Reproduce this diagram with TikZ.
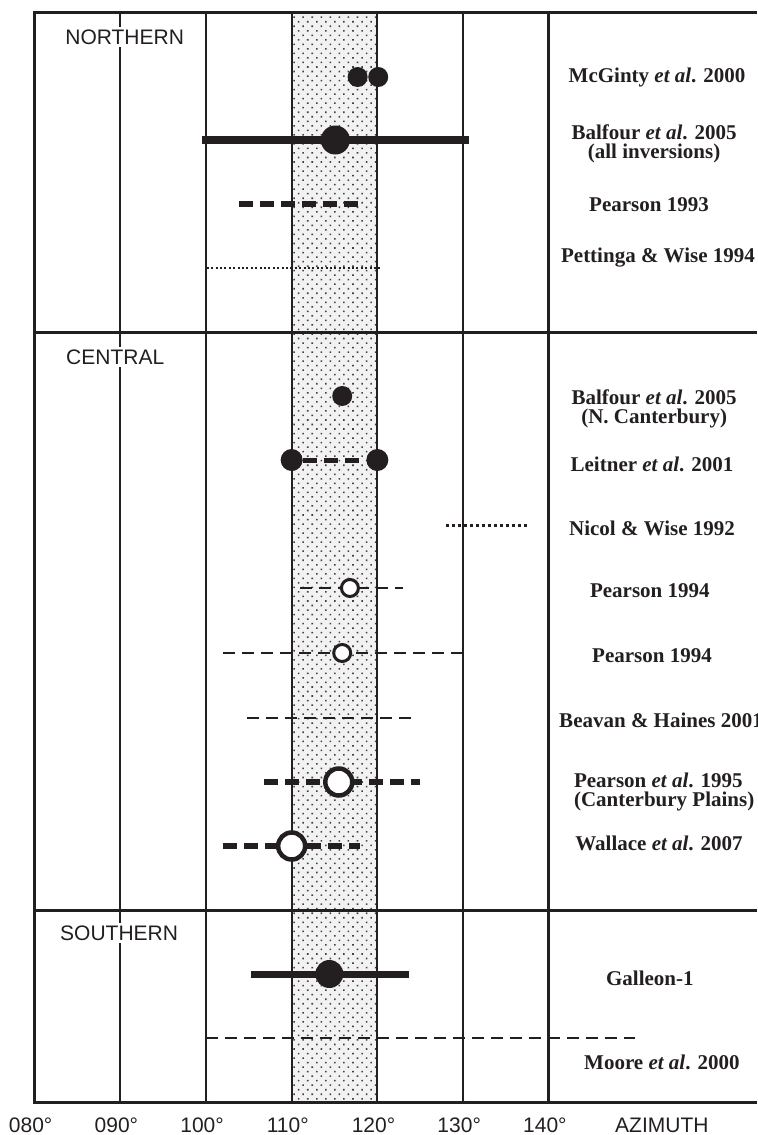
\documentclass[tikz,border=0pt]{standalone}
\usepackage{fontspec}
\setmainfont{Liberation Serif}
\setsansfont{Liberation Sans}
\usetikzlibrary{patterns.meta}
\definecolor{ink}{HTML}{231F20}

\tikzset{
  gridline/.style={draw=ink, line width=1pt},
  borderline/.style={draw=ink, line width=1.5pt},
  region/.style={font=\sffamily\fontsize{10.5}{12}\selectfont, text=ink, fill=white, inner sep=1.5pt, anchor=west},
  axislabel/.style={font=\sffamily\fontsize{10.5}{12}\selectfont, text=ink},
  reflabel/.style={font=\bfseries\fontsize{10.5}{9.5}\selectfont, text=ink, align=center},
  soliddot/.style={circle, fill=ink, inner sep=0pt, minimum size=10pt},
  bigdot/.style={circle, fill=ink, inner sep=0pt, minimum size=14.5pt},
  opendot/.style={circle, draw=ink, fill=white, line width=1.5pt, inner sep=0pt, minimum size=8.5pt},
  bigopen/.style={circle, draw=ink, fill=white, line width=2.25pt, inner sep=0pt, minimum size=13.5pt},
  thickbar/.style={draw=ink, line width=4pt},
  heavydash/.style={draw=ink, line width=3pt, dash pattern=on 7pt off 3.5pt},
  lightdash/.style={draw=ink, line width=1pt, dash pattern=on 6pt off 3.5pt},
  finedots/.style={draw=ink, line width=1pt, dash pattern=on 1pt off 1.2pt},
  heavydots/.style={draw=ink, line width=1.5pt, dash pattern=on 1.5pt off 1.5pt}
}

\begin{document}
\begin{tikzpicture}[x=4.285pt, y=-0.5pt]
  \useasboundingbox (75.97,0) rectangle (164.31,1135);

  % Stippled band 110-120
  \fill[black!5] (110,12) rectangle (120,1102);
  \path[pattern={Dots[distance=3.2pt, radius=0.55pt, angle=45]}, pattern color=black!75] (110,12) rectangle (120,1102);

  % Grid lines
  \foreach \a in {90,100,110,120,130}
    \draw[gridline] (\a,12) -- (\a,1102);
  \draw[borderline] (140,12) -- (140,1102);
  \draw[borderline] (164.31,12) -- (80,12) -- (80,1102) -- (164.31,1102);
  \foreach \y in {332,910}
    \draw[borderline] (80,\y) -- (164.31,\y);

  % Axis labels
  \foreach \a/\t in {80/080,90/090,100/100,110/110,120/120,130/130,140/140}
    \node[axislabel] (tick\a) at (\a-0.45,1125) {\t°};
  \node[axislabel] (azimuth) at (153.2,1125) {AZIMUTH};

  % Regions
  \node[region] (north) at (83.2,37) {NORTHERN};
  \node[region] (central) at (83.3,357) {CENTRAL};
  \node[region] (south) at (82.6,933) {SOUTHERN};

  % McGinty et al. 2000
  \node[soliddot] (mcg1) at (117.7,77) {};
  \node[soliddot] (mcg2) at (120.1,77) {};
  \node[reflabel] (mcgref) at (152.64,77) {McGinty \textit{et al}. 2000};

  % Balfour et al. 2005 (all inversions)
  \coordinate (balA-w) at (99.5,140);
  \coordinate (balA-e) at (130.7,140);
  \draw[thickbar] (balA-w) -- (balA-e);
  \node[bigdot] (balA) at (115.1,140) {};
  \node[reflabel] (balAref) at (152.29,144) {Balfour \textit{et al}. 2005\\(all inversions)};

  % Pearson 1993
  \coordinate (pea93-w) at (103.8,204);
  \coordinate (pea93-e) at (117.7,204);
  \draw[heavydash] (pea93-w) -- (pea93-e);
  \node[reflabel] (pea93ref) at (151.7,205) {Pearson 1993};

  % Pettinga & Wise 1994
  \coordinate (pet-w) at (100.1,268);
  \coordinate (pet-e) at (120.3,268);
  \draw[finedots] (pet-w) -- (pet-e);
  \node[reflabel] (petref) at (152.75,258) {Pettinga \& Wise 1994};

  % Balfour et al. 2005 (N. Canterbury)
  \node[soliddot] (balN) at (115.9,396) {};
  \node[reflabel] (balNref) at (152.3,409) {Balfour \textit{et al}. 2005\\(N. Canterbury)};

  % Leitner et al. 2001
  \node[soliddot, minimum size=11pt] (lei1) at (110,460) {};
  \node[soliddot, minimum size=11pt] (lei2) at (120,460) {};
  \draw[heavydash, line width=2.5pt] (lei1) -- (lei2);
  \node[reflabel] (leiref) at (152.05,464) {Leitner \textit{et al}. 2001};

  % Nicol & Wise 1992
  \coordinate (nic-w) at (128,525);
  \coordinate (nic-e) at (137.6,525);
  \draw[heavydots] (nic-w) -- (nic-e);
  \node[reflabel] (nicref) at (152.05,528) {Nicol \& Wise 1992};

  % Pearson 1994 (a)
  \coordinate (pea94a-w) at (111,588);
  \coordinate (pea94a-e) at (123,588);
  \draw[lightdash] (pea94a-w) -- (pea94a-e);
  \node[opendot] (pea94a) at (116.8,588) {};
  \node[reflabel] (pea94aref) at (151.8,591) {Pearson 1994};

  % Pearson 1994 (b)
  \coordinate (pea94b-w) at (102,653);
  \coordinate (pea94b-e) at (130,653);
  \draw[lightdash] (pea94b-w) -- (pea94b-e);
  \node[opendot] (pea94b) at (115.9,653) {};
  \node[reflabel] (pea94bref) at (152.05,656) {Pearson 1994};

  % Beavan & Haines 2001
  \coordinate (bea-w) at (104.8,718);
  \coordinate (bea-e) at (124.7,718);
  \draw[lightdash] (bea-w) -- (bea-e);
  \node[reflabel, anchor=west] (bearef) at (140.4,720) {Beavan \& Haines 2001};

  % Pearson et al. 1995 (Canterbury Plains)
  \coordinate (pea95-w) at (106.8,782);
  \coordinate (pea95-e) at (125,782);
  \draw[heavydash] (pea95-w) -- (pea95-e);
  \node[bigopen] (pea95) at (115.5,782) {};
  \node[reflabel, anchor=west, align=left] (pea95ref) at (142.13,792) {Pearson \textit{et al}. 1995\\(Canterbury Plains)};

  % Wallace et al. 2007
  \coordinate (wal-w) at (102,846);
  \coordinate (wal-e) at (118,846);
  \draw[heavydash] (wal-w) -- (wal-e);
  \node[bigopen] (wal) at (110,846) {};
  \node[reflabel] (walref) at (152.87,843) {Wallace \textit{et al}. 2007};

  % Galleon-1
  \coordinate (gal-w) at (105.3,974);
  \coordinate (gal-e) at (123.7,974);
  \draw[thickbar, line width=3.5pt] (gal-w) -- (gal-e);
  \node[bigdot, minimum size=14pt] (gal) at (114.4,974) {};
  \node[reflabel] (galref) at (151.8,978) {Galleon-1};

  % Moore et al. 2000
  \coordinate (moo-w) at (100,1038);
  \coordinate (moo-e) at (150.07,1038);
  \draw[lightdash] (moo-w) -- (moo-e);
  \node[reflabel] (mooref) at (153.2,1062) {Moore \textit{et al}. 2000};
\end{tikzpicture}
\end{document}
